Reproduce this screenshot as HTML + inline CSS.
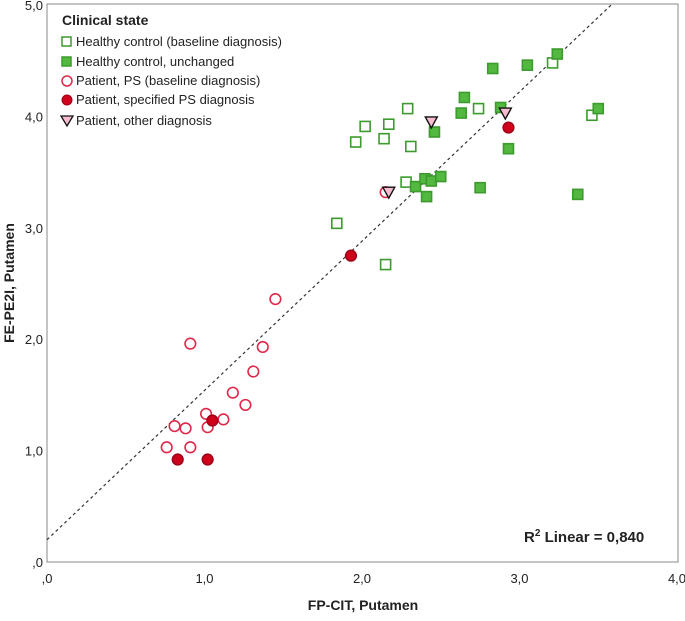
<!DOCTYPE html>
<html><head><meta charset="utf-8"><style>
body{margin:0;background:#fff;}
svg text{font-family:"Liberation Sans",sans-serif;fill:#222;}
</style></head><body>
<svg id="chart" width="685" height="616">
<rect x="47" y="4" width="631" height="558" fill="#fff" stroke="#888" stroke-width="1"/>
<g id="ticks"></g>
<g id="marks"></g>
<text x="363" y="610" text-anchor="middle" font-size="14" font-weight="bold">FP-CIT, Putamen</text>
<text transform="translate(14,283) rotate(-90)" text-anchor="middle" font-size="14" font-weight="bold">FE-PE2I, Putamen</text>
<text x="524" y="542" font-size="15" font-weight="bold">R<tspan font-size="10" dy="-6">2</tspan><tspan dy="6"> Linear = 0,840</tspan></text>
<g>
<text x="62" y="25" font-size="14" font-weight="bold">Clinical state</text>
<rect x="62" y="37" width="9" height="9" fill="#fff" stroke="#3d9a2e" stroke-width="1.5"/>
<text x="76" y="46" font-size="13">Healthy control (baseline diagnosis)</text>
<rect x="62" y="57" width="9" height="9" fill="#53b83f" stroke="#3d9a2e" stroke-width="1.5"/>
<text x="76" y="66" font-size="13">Healthy control, unchanged</text>
<circle cx="67" cy="81" r="5" fill="#fff" stroke="#e0284a" stroke-width="1.5"/>
<text x="76" y="85" font-size="13">Patient, PS (baseline diagnosis)</text>
<circle cx="67" cy="100" r="5" fill="#d0021b" stroke="#a00018" stroke-width="1"/>
<text x="76" y="104" font-size="13">Patient, specified PS diagnosis</text>
<path d="M61,116 L73,116 L67,126 Z" fill="#f7bccf" stroke="#111" stroke-width="1.3"/>
<text x="76" y="125" font-size="13">Patient, other diagnosis</text>
</g>
</svg>
<script>
const xTicks=[0,1,2,3,4];
const xTickLabels=[",0","1,0","2,0","3,0","4,0"];
const yTicks=[0,1,2,3,4,5];
const yTickLabels=[",0","1,0","2,0","3,0","4,0","5,0"];
const fitIntercept=0.2;
const fitSlope=1.34;
const healthyBaselineX=[1.84,2.15,1.96,2.02,2.14,2.17,2.29,2.31,2.28,2.74,3.21,3.46];
const healthyBaselineY=[3.04,2.67,3.77,3.91,3.80,3.93,4.07,3.73,3.41,4.07,4.48,4.01];
const healthyUnchangedX=[2.83,3.05,3.24,3.50,2.65,2.63,2.88,2.46,2.93,2.34,2.40,2.44,2.50,2.41,2.75,3.37];
const healthyUnchangedY=[4.43,4.46,4.56,4.07,4.17,4.03,4.08,3.86,3.71,3.37,3.44,3.42,3.46,3.28,3.36,3.30];
const patientPsX=[1.45,0.91,1.37,1.31,1.18,1.26,1.01,1.12,1.02,0.81,0.88,0.76,0.91,2.15];
const patientPsY=[2.36,1.96,1.93,1.71,1.52,1.41,1.33,1.28,1.21,1.22,1.20,1.03,1.03,3.32];
const patientSpecX=[1.05,0.83,1.02,1.93,2.93];
const patientSpecY=[1.27,0.92,0.92,2.75,3.90];
const patientOtherX=[2.44,2.91,2.17];
const patientOtherY=[3.95,4.03,3.32];

const X0=47,X1=677,Y0=562,Y1=5;
const sx=v=>X0+v*(X1-X0)/4;
const sy=v=>Y0-v*(Y0-Y1)/5;
const NS="http://www.w3.org/2000/svg";
const ticks=document.getElementById('ticks');
const marks=document.getElementById('marks');
function mk(tag,attrs,parent){const e=document.createElementNS(NS,tag);for(const k in attrs)e.setAttribute(k,attrs[k]);parent.appendChild(e);return e;}
xTicks.forEach((t,i)=>{
  const e=mk('text',{x:sx(t),y:583,'text-anchor':'middle','font-size':13},ticks);
  e.textContent=xTickLabels[i];
  
  
});
yTicks.forEach((t,i)=>{
  const e=mk('text',{x:43,y:sy(t)+5,'text-anchor':'end','font-size':13},ticks);
  e.textContent=yTickLabels[i];
  
  
});
// fit line clipped to plot
const xEnd=Math.min(4,(5-fitIntercept)/fitSlope);
const fl=mk('line',{x1:sx(0),y1:sy(fitIntercept),x2:sx(xEnd),y2:sy(fitIntercept+fitSlope*xEnd),stroke:'#333','stroke-width':1.2,'stroke-dasharray':'3,3'},marks);


function sq(xs,ys,fill,name){xs.forEach((x,i)=>{
  const e=mk('rect',{x:sx(x)-5,y:sy(ys[i])-5,width:10,height:10,fill:fill,stroke:'#3d9a2e','stroke-width':1.6},marks);
  
  
});}
function ci(xs,ys,fill,stroke,name){xs.forEach((x,i)=>{
  const e=mk('circle',{cx:sx(x),cy:sy(ys[i]),r:5.3,fill:fill,stroke:stroke,'stroke-width':1.6},marks);
  
  
});}
sq(healthyBaselineX,healthyBaselineY,'#fff','point-healthy-baseline');
sq(healthyUnchangedX,healthyUnchangedY,'#53b83f','point-healthy-unchanged');
ci(patientPsX,patientPsY,'none','#e0284a','point-patient-ps');
ci(patientSpecX,patientSpecY,'#d0021b','#a00018','point-patient-specified');
patientOtherX.forEach((x,i)=>{
  const cx=sx(x),cy=sy(patientOtherY[i]);
  const e=mk('path',{d:`M${cx-6},${cy-5} L${cx+6},${cy-5} L${cx},${cy+6} Z`,fill:'#f7bccf',stroke:'#111','stroke-width':1.4},marks);
  
  
});
</script>
</body></html>
